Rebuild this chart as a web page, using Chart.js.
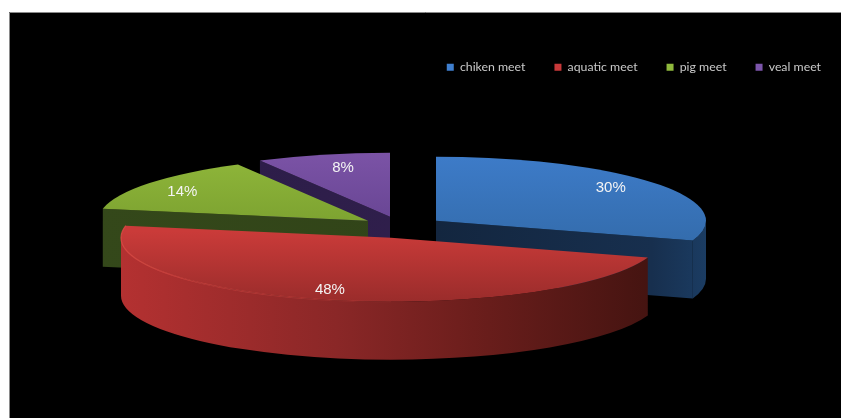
<!DOCTYPE html>
<html>
<head>
<meta charset="utf-8">
<style>
html,body{margin:0;padding:0;background:#fff}
canvas{display:block}
</style>
<script src="https://cdn.jsdelivr.net/npm/chart.js"></script>
</head>
<body>
<canvas id="pie" width="841" height="418"></canvas>
<script>
/* ================= DATA ================= */
const categories = ['chiken meet','aquatic meet','pig meet','veal meet'];
const shares = [30,48,14,8];

/* ================= LOOK ================= */
const legendColors = ['#3f7fcf','#c8393a','#8fb93c','#7c55ab'];
const topColors = [['#3d7bc8','#2f659f'],['#ca3b39','#9a2c2b'],['#8fb63a','#6c9128'],['#7b53a6','#583a84']];
const wallColors = [
  [[0,'#13263f'],[.8,'#172f4e'],[1,'#1b3c62']],
  [[0,'#b43131'],[.4,'#8a2727'],[.65,'#6c1e1c'],[1,'#421310']],
  [[0,'#34481a'],[1,'#2f4117']],
  [[0,'#2b1c47'],[1,'#33214f']]
];
const RX = 270, RY = 64, DEPTH = 58;        // squashed pie shape
const shiftX = [15.5,-29.5,-52.5,-30.5];    // how far each slice is pulled out
const shiftY = [0,17,0,-4];
const labelRX = [.8,.91,.85,.7];            // label spot as a fraction of radius
const labelRY = [.88,.85,.77,.79];

/* ================= 3D PIE ================= */
const center = (arc,i)=>({x:arc.x+shiftX[i], y:arc.y+shiftY[i]});

function hGrad(ctx,x0,x1,stops){
  const g=ctx.createLinearGradient(x0,0,x1,0);
  stops.forEach(s=>g.addColorStop(s[0],s[1]));
  return g;
}

function drawWall(ctx,c,a,mid,fill){
  const ex=Math.cos(a)*RX, ey=Math.sin(a)*RY;
  if(Math.abs(ex)<1) return;
  // only the radial edge with the slice behind it shows its side
  const mx=Math.cos(mid)*RX, my=Math.sin(mid)*RY;
  if(my >= mx*ey/ex) return;
  ctx.fillStyle=fill;
  ctx.beginPath();
  ctx.moveTo(c.x,c.y);
  ctx.lineTo(c.x+ex,c.y+ey);
  ctx.lineTo(c.x+ex,c.y+ey+DEPTH);
  ctx.lineTo(c.x,c.y+DEPTH);
  ctx.closePath();
  ctx.fill();
}

function drawRim(ctx,c,a0,a1,fill){
  const from=Math.max(a0,0), to=Math.min(a1,Math.PI);
  if(to<=from) return;
  ctx.fillStyle=fill;
  ctx.beginPath();
  ctx.ellipse(c.x,c.y,RX,RY,0,from,to);
  ctx.ellipse(c.x,c.y+DEPTH,RX,RY,0,to,from,true);
  ctx.closePath();
  ctx.fill();
}

function drawSlice(ctx,arc,i){
  const c=center(arc,i), a0=arc.startAngle, a1=arc.endAngle, mid=(a0+a1)/2;
  const side=hGrad(ctx,c.x-RX,c.x+RX,wallColors[i]);
  const sideBlue=i===0 ? hGrad(ctx,c.x,c.x+RX,wallColors[i]) : side;
  drawWall(ctx,c,a0,mid,sideBlue);
  drawWall(ctx,c,a1,mid,sideBlue);
  drawRim(ctx,c,a0,a1,sideBlue);

  const top=ctx.createLinearGradient(0,c.y-RY,0,c.y+RY);
  top.addColorStop(i===1?.45:0,topColors[i][0]);
  top.addColorStop(1,topColors[i][1]);
  ctx.fillStyle=top;
  ctx.beginPath();
  ctx.moveTo(c.x,c.y);
  ctx.ellipse(c.x,c.y,RX,RY,0,a0,a1);
  ctx.closePath();
  ctx.fill();

  // light seam where the red top meets its rim
  if(i===1){
    const seam=ctx.createLinearGradient(c.x-RX,0,c.x+40,0);
    seam.addColorStop(0,'rgba(225,75,70,.8)');
    seam.addColorStop(1,'rgba(225,75,70,0)');
    ctx.strokeStyle=seam;
    ctx.lineWidth=1.2;
    ctx.beginPath();
    ctx.ellipse(c.x,c.y,RX,RY,0,Math.PI/2,a1);
    ctx.stroke();
  }
}

const pie3d={
  id:'pie3d',
  beforeDraw(chart){
    const ctx=chart.ctx;
    ctx.save();
    ctx.fillStyle='#000';
    ctx.fillRect(9,12,832,406);
    ctx.strokeStyle='#8a8a8a';
    ctx.lineWidth=1;
    ctx.beginPath();
    ctx.moveTo(9.5,418);ctx.lineTo(9.5,12.5);ctx.lineTo(841,12.5);
    ctx.stroke();
    ctx.restore();
  },
  beforeDatasetsDraw(chart){
    const ctx=chart.ctx, arcs=chart.getDatasetMeta(0).data;
    ctx.save();
    // back slices first so the red one lands on top
    [3,2,0,1].forEach(i=>drawSlice(ctx,arcs[i],i));
    ctx.font='15px "Liberation Sans", Arial, sans-serif';
    ctx.fillStyle='#f4f4f4';
    ctx.textAlign='center';
    ctx.textBaseline='middle';
    arcs.forEach((arc,i)=>{
      const c=center(arc,i), mid=(arc.startAngle+arc.endAngle)/2;
      ctx.fillText(shares[i]+'%',c.x+Math.cos(mid)*RX*labelRX[i],c.y+Math.sin(mid)*RY*labelRY[i]);
    });
    ctx.restore();
    return false;
  }
};

/* ================= CHART ================= */
new Chart(document.getElementById('pie'),{
  type:'pie',
  data:{
    labels:categories,
    datasets:[{data:shares,backgroundColor:legendColors,borderWidth:0}]
  },
  options:{
    responsive:false,
    animation:false,
    layout:{padding:{top:32,right:-9,bottom:60,left:0}},
    plugins:{
      tooltip:{enabled:false},
      legend:{
        position:'top',
        align:'end',
        labels:{
          color:'#c9c9c9',
          boxWidth:7,
          boxHeight:7,
          padding:29,
          font:{family:'Lato',size:12.3}
        }
      }
    }
  },
  plugins:[pie3d]
});
</script>
</body>
</html>
